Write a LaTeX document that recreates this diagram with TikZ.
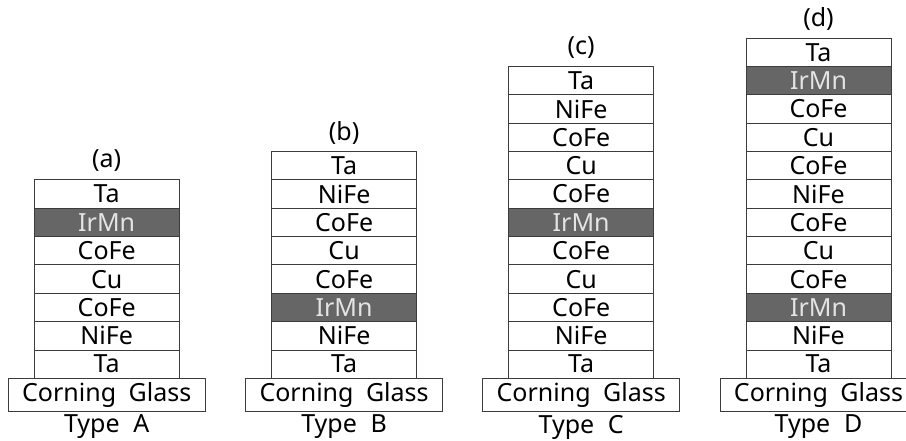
\documentclass[tikz,border=0pt]{standalone}
\usepackage{fontspec}
\setmainfont{Noto Sans}
\definecolor{edge}{HTML}{3C3C3C}
\definecolor{irmn}{HTML}{666666}
\definecolor{irmntext}{HTML}{E4E4E4}
\tikzset{
  layer/.style={draw=edge, line width=0.9pt, minimum width=145pt, minimum height=28.35pt,
    inner sep=0pt, outer sep=0pt, text=black, font=\fontsize{25}{25}\selectfont},
  lay/Ta/.style={fill=white},
  lay/NiFe/.style={fill=white},
  lay/CoFe/.style={fill=white},
  lay/Cu/.style={fill=white},
  lay/IrMn/.style={fill=irmn, text=irmntext},
  glass/.style={draw=edge, line width=0.9pt, minimum width=197pt, minimum height=33.2pt,
    inner sep=0pt, outer sep=0pt, fill=white, font=\fontsize{25}{25}\selectfont},
  caption/.style={inner sep=0pt, font=\fontsize{25}{25}\selectfont}
}
\newcommand\drawstack[6]{%
  \foreach \lbl [count=\i] in {#3} {
    \node[layer, lay/\lbl] (#1\i) at (#2, {378.3-(\i-0.5)*28.35}) {\lbl};
  }
  \node[caption] (#1lab) at (#2, {378.3-#4*28.35-19}) {#5};
  \node[glass] (#1glass) at (#2, 394.9) {Corning\hspace{0.5em}Glass};
  \node[caption] (#1type) at (#2, 427) {Type\hspace{0.55em}#6};
}
\begin{document}
\begin{tikzpicture}[x=1pt,y=-1pt]
\useasboundingbox (0,0) rectangle (906,441);
\clip (0,0) rectangle (906,441);
\drawstack{A}{106.7}{Ta,NiFe,CoFe,Cu,CoFe,IrMn,Ta}{7}{(a)}{A}
\drawstack{B}{344.1}{Ta,NiFe,IrMn,CoFe,Cu,CoFe,NiFe,Ta}{8}{(b)}{B}
\drawstack{C}{581.2}{Ta,NiFe,CoFe,Cu,CoFe,IrMn,CoFe,Cu,CoFe,NiFe,Ta}{11}{(c)}{C}
\drawstack{D}{818.5}{Ta,NiFe,IrMn,CoFe,Cu,CoFe,NiFe,CoFe,Cu,CoFe,IrMn,Ta}{12}{(d)}{D}
\end{tikzpicture}
\end{document}
